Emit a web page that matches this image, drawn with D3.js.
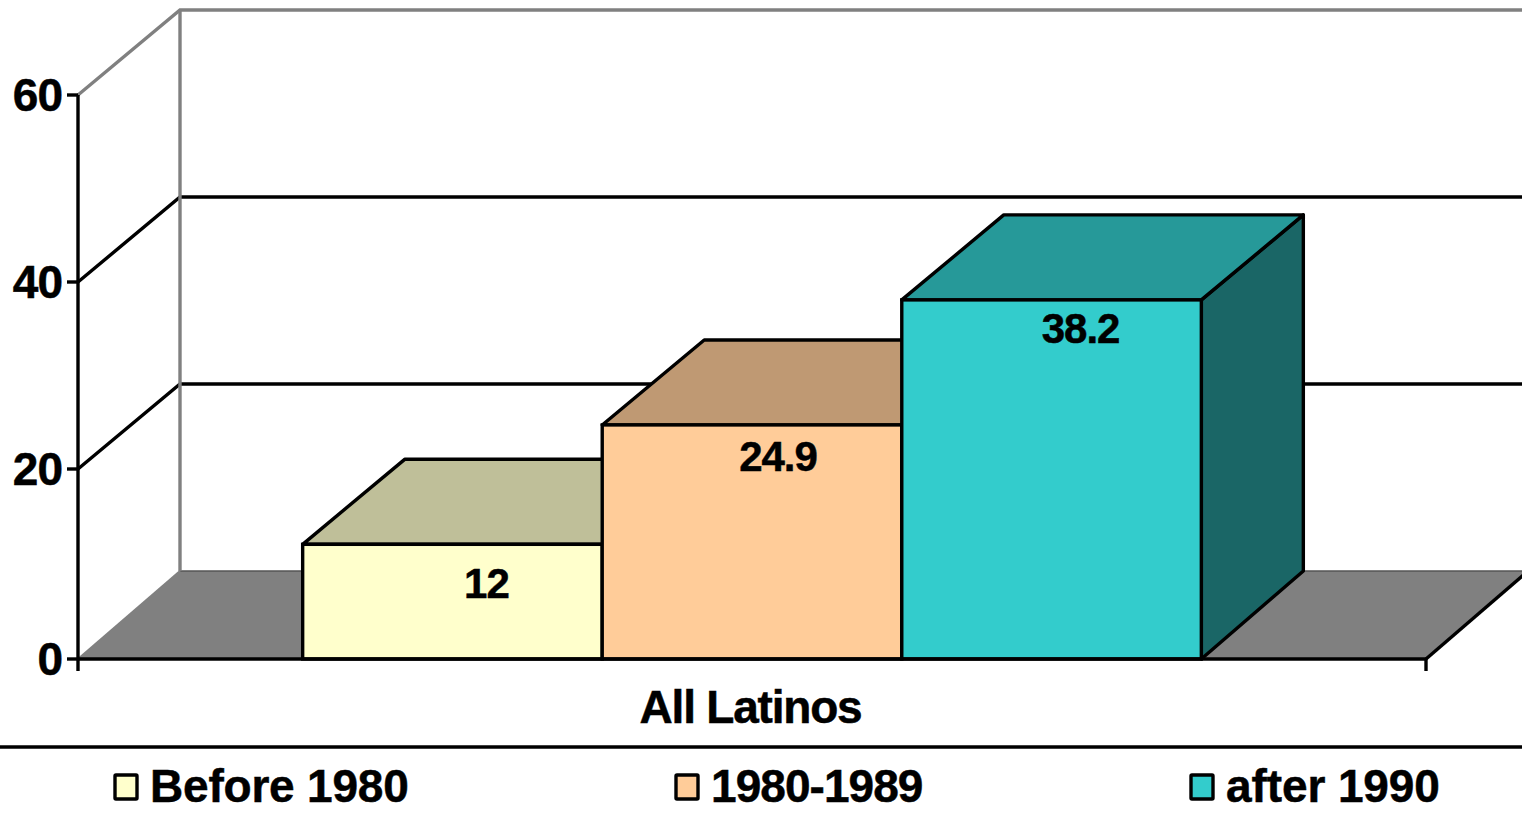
<!DOCTYPE html>
<html><head><meta charset="utf-8">
<script src="https://cdn.jsdelivr.net/npm/d3@7/dist/d3.min.js"></script>
<style>html,body{margin:0;padding:0;background:#fff;overflow:hidden}svg{display:block}
text{font-family:"Liberation Sans",Arial,sans-serif;font-weight:700;fill:#000;stroke:#000;stroke-width:.5px}</style>
</head><body><svg id="c" width="1522" height="827"></svg>
<script>
const category = "All Latinos";
const seriesNames = ["Before 1980", "1980-1989", "after 1990"];
const seriesValues = [12.2, 24.9, 38.2];
const valueLabels = ["12", "24.9", "38.2"];
const yTicks = [0, 20, 40, 60];
const frontColors = ["#FFFFCC", "#FFCC99", "#33CCCC"];
const topColors = ["#BFBF99", "#BF9973", "#269999"];
const sideColor = "#1A6666";
const labelOffsets = [[34, 39], [26, 32], [29, 29]];
const legendX = [115, 676, 1191];
const legendSpacing = [-0.2, -0.95, -0.1];

const SW = 3.4;
const svg = d3.select("#c");
const y = d3.scaleLinear().domain([0, 60]).range([659, 95]);
const yAxis = d3.scaleLinear().domain(yTicks).range([659, 469, 282, 95]);
const yBack = d3.scaleLinear().domain([0, 60]).range([571, 10]);
const x = d3.scaleBand().domain(seriesNames).range([78, 1426]).paddingInner(0).paddingOuter(0.75);
const depthX = 102, depthY = 85;
const xL = x.range()[0], xR = x.range()[1];
const line = d3.line();

// floor
svg.append("path").attr("d", line([[xL, y(0)], [xL + depthX, yBack(0)], [xR + depthX, yBack(0)], [xR, y(0)]]) + "Z")
  .attr("fill", "#808080").attr("stroke", "none");
svg.append("line").attr("x1", xL + depthX).attr("x2", xR + depthX).attr("y1", yBack(0)).attr("y2", yBack(0))
  .attr("stroke", "#555").attr("stroke-width", 1.5);

// back and side wall outlines
const wallTop = yBack(60);
svg.append("path").attr("d", line([[xL, y(60)], [xL + depthX, wallTop], [xR + depthX, wallTop]]))
  .attr("fill", "none").attr("stroke", "#808080").attr("stroke-width", SW);
svg.append("line").attr("x1", xL).attr("x2", xL + depthX).attr("y1", y(0)).attr("y2", yBack(0))
  .attr("stroke", "#808080").attr("stroke-width", 2);

// gridlines
yTicks.filter(t => t > 0 && t < 60).forEach(t => {
  svg.append("path").attr("d", line([[xL, yAxis(t)], [xL + depthX, yBack(t)], [xR + depthX, yBack(t)]]))
    .attr("fill", "none").attr("stroke", "#000").attr("stroke-width", SW);
});
svg.append("line").attr("x1", xL + depthX).attr("x2", xL + depthX).attr("y1", wallTop).attr("y2", yBack(0))
  .attr("stroke", "#808080").attr("stroke-width", SW);
// floor right edge
svg.append("line").attr("x1", xR).attr("x2", xR + depthX).attr("y1", y(0)).attr("y2", yBack(0))
  .attr("stroke", "#000").attr("stroke-width", SW);

// bars, back to front in order
const bars = svg.selectAll("g.bar").data(seriesNames).join("g").attr("class", "bar");
bars.each(function (name, i) {
  const g = d3.select(this), x0 = x(name), x1 = x0 + x.bandwidth(), v = seriesValues[i], t = y(v), b = y(0);
  const st = s => s.attr("stroke", "#000").attr("stroke-width", SW).attr("stroke-linejoin", "round");
  if (i === seriesNames.length - 1) {
    st(g.append("path").attr("d", line([[x1, t], [x1 + depthX, t - depthY], [x1 + depthX, yBack(0)], [x1, b]]) + "Z").attr("fill", sideColor));
  }
  st(g.append("path").attr("d", line([[x0, t], [x0 + depthX, t - depthY], [x1 + depthX, t - depthY], [x1, t]]) + "Z").attr("fill", topColors[i]));
});
bars.each(function (name, i) {
  const g = d3.select(this), x0 = x(name), t = y(seriesValues[i]);
  g.append("rect").attr("x", x0).attr("y", t).attr("width", x.bandwidth()).attr("height", y(0) - t)
    .attr("fill", frontColors[i]).attr("stroke", "#000").attr("stroke-width", SW);
});
bars.each(function (name, i) {
  d3.select(this).append("text")
    .attr("x", x(name) + x.bandwidth() / 2 + labelOffsets[i][0])
    .attr("y", y(seriesValues[i]) + labelOffsets[i][1])
    .attr("text-anchor", "middle").attr("dominant-baseline", "central")
    .attr("font-size", 42).attr("letter-spacing", -1).text(valueLabels[i]);
});

// axes
const axisG = svg.append("g");
axisG.append("line").attr("x1", xL).attr("x2", xL).attr("y1", y(60)).attr("y2", y(0) + 12).attr("stroke", "#000").attr("stroke-width", SW);
axisG.append("line").attr("x1", xL).attr("x2", xR).attr("y1", y(0)).attr("y2", y(0)).attr("stroke", "#000").attr("stroke-width", SW);
axisG.append("line").attr("x1", xR).attr("x2", xR).attr("y1", y(0)).attr("y2", y(0) + 12).attr("stroke", "#000").attr("stroke-width", SW);
const yt = axisG.selectAll("g.t").data(yTicks).join("g").attr("transform", d => `translate(0,${yAxis(d)})`);
yt.append("line").attr("x1", xL - 11).attr("x2", xL).attr("stroke", "#000").attr("stroke-width", SW);
yt.append("text").attr("x", 62).attr("y", -0.5).attr("text-anchor", "end").attr("dominant-baseline", "central")
  .attr("font-size", 46).attr("letter-spacing", -1).text(d => d);

svg.append("text").attr("x", 750.5).attr("y", 706.5).attr("text-anchor", "middle").attr("dominant-baseline", "central")
  .attr("font-size", 46).attr("letter-spacing", -1.2).text(category);

// legend
svg.append("line").attr("x1", 0).attr("x2", 1522).attr("y1", 747).attr("y2", 747).attr("stroke", "#000").attr("stroke-width", SW);
const lg = svg.selectAll("g.l").data(seriesNames).join("g").attr("class", "l");
lg.append("rect").attr("x", (d, i) => legendX[i]).attr("y", 775).attr("width", 22).attr("height", 24).attr("rx", 1)
  .attr("fill", (d, i) => frontColors[i]).attr("stroke", "#000").attr("stroke-width", SW);
lg.append("text").attr("x", (d, i) => legendX[i] + 35).attr("y", 786).attr("dominant-baseline", "central")
  .attr("font-size", 46).attr("letter-spacing", (d, i) => legendSpacing[i]).text(d => d);
</script></body></html>
